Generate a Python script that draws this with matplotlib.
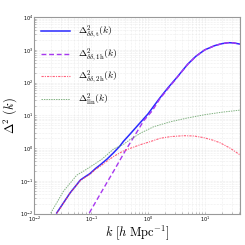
import numpy as np
import matplotlib
matplotlib.use('Agg')
import matplotlib.pyplot as plt

plt.rcParams['mathtext.fontset'] = 'cm'

# total halo-model spectrum
k_tot = [0.0248, 0.0427, 0.065, 0.0785, 0.095, 0.12, 0.145, 0.19, 0.248, 0.32,
         0.37, 0.5, 0.7, 1.0, 1.6, 2.2, 3.3, 5, 7, 10, 15, 20, 26, 32, 42]
d_tot = [0.0105, 0.043, 0.107, 0.134, 0.166, 0.24, 0.31, 0.46, 0.72, 1.15,
         1.6, 2.85, 5.5, 11, 33, 66, 150, 363, 640, 1000, 1350, 1550, 1660, 1640, 1500]

# one-halo term
k_1h = [0.093, 0.15, 0.25, 0.4, 0.6, 0.85, 1.2, 1.6, 2.2, 3.3, 5, 7, 10, 15,
        20, 26, 32, 42]
d_1h = [0.0105, 0.044, 0.2, 0.83, 2.6, 7, 14, 31, 62, 147, 358, 636, 997, 1348,
        1548, 1658, 1640, 1500]

# two-halo term
k_2h = [0.0248, 0.0427, 0.065, 0.0785, 0.095, 0.12, 0.145, 0.19, 0.25, 0.37,
        0.5, 0.73, 1.0, 1.65, 2.5, 4.3, 6.5, 9.5, 14, 18.8, 28, 42]
d_2h = [0.0102, 0.042, 0.104, 0.128, 0.158, 0.225, 0.28, 0.4, 0.56, 0.82,
        1.0, 1.27, 1.5, 2.0, 2.25, 2.4, 2.35, 2.1, 1.75, 1.45, 1.0, 0.62]

# linear spectrum
k_lin = [0.0195, 0.0325, 0.056, 0.073, 0.11, 0.155, 0.25, 0.37, 0.49, 0.75,
         1.26, 2.5, 4.9, 10, 20, 42]
d_lin = [0.0104, 0.048, 0.15, 0.197, 0.31, 0.46, 0.95, 1.3, 1.85, 2.9,
         4.5, 6.4, 8.3, 10.5, 12.5, 14.5]

fig = plt.figure(figsize=(2.45, 2.45), dpi=100)
ax = fig.add_axes([0.14, 0.128, 0.84, 0.802])

ax.loglog(k_tot, d_tot, '-', color='#2a2aff', lw=1.1,
          label=r'$\Delta^2_{\delta\delta,{\rm t}}(k)$')
ax.loglog(k_1h, d_1h, '--', color='#a838f0', lw=1.0, dashes=(3.5, 2),
          label=r'$\Delta^2_{\delta\delta,{\rm 1h}}(k)$')
ax.loglog(k_2h, d_2h, '-.', color='#ff3a5c', lw=0.8, alpha=0.8,
          dashes=(2, 1, 1, 1), label=r'$\Delta^2_{\delta\delta,{\rm 2h}}(k)$')
ax.loglog(k_lin, d_lin, '--', color='#5a9a5a', lw=0.7, alpha=0.75,
          dashes=(1.5, 1), label=r'$\Delta^2_{\rm lin}(k)$')

ax.set_xlim(1e-2, 42)
ax.set_ylim(1e-2, 1e4)

ax.grid(True, which='both', ls=':', lw=0.4, color='#dddddd')
ax.tick_params(which='both', labelsize=3.5, direction='in', color='#888888',
               length=1.5, width=0.4, pad=1)
for s in ax.spines.values():
    s.set_color('#999999')
    s.set_linewidth(0.8)

ax.set_xlabel(r'$k\ [h\ {\rm Mpc}^{-1}]$', fontsize=9, labelpad=-1)
ax.set_ylabel(r'$\Delta^2\ (k)$', fontsize=9, labelpad=1)

ax.legend(loc='upper left', fontsize=7, frameon=False, handlelength=3,
          labelspacing=0.55, borderaxespad=0.3)

fig.savefig('out.png', dpi=100)
